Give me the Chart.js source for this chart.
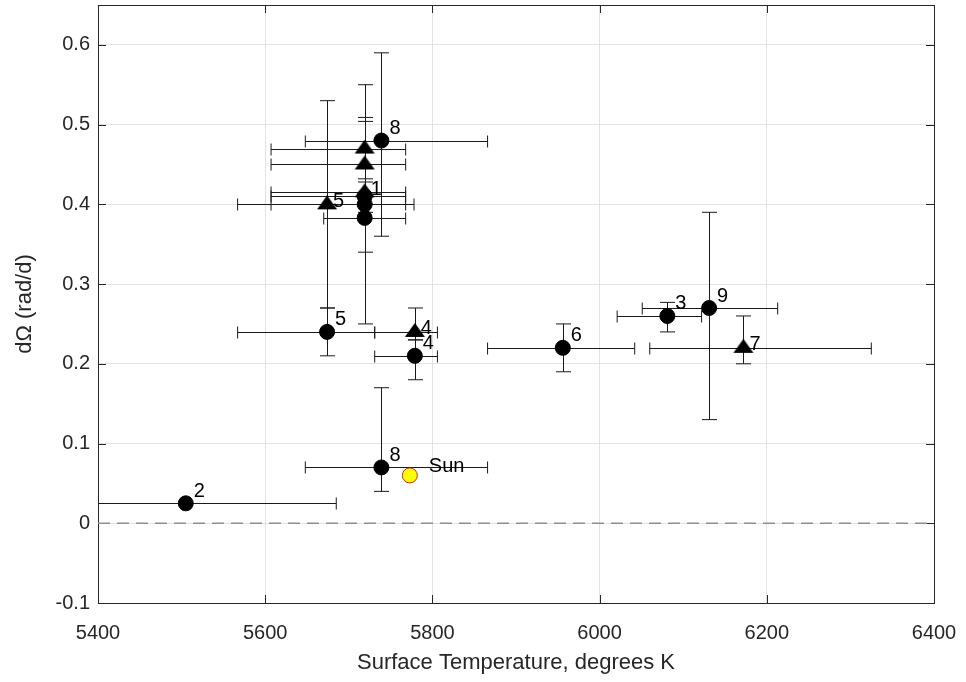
<!DOCTYPE html>
<html>
<head>
<meta charset="utf-8">
<script src="https://cdn.jsdelivr.net/npm/chart.js@4/dist/chart.umd.min.js"></script>
<style>
    html, body { margin: 0; padding: 0; background: #fff; }
    #wrap { width: 966px; height: 682px; }
</style>
</head>
<body>
<div id="wrap"><canvas id="chart" width="966" height="682"></canvas></div>
<script>
// axis ticks
const xTicks = [5400, 5600, 5800, 6000, 6200, 6400];
const yTicks = [-0.1, 0, 0.1, 0.2, 0.3, 0.4, 0.5, 0.6];

// circle markers
const circleTemp = [5505, 5739, 5739, 5674, 5779, 5956, 6081, 6131, 5719, 5719, 5719];
const circleDOmega = [0.025, 0.07, 0.48, 0.24, 0.21, 0.22, 0.26, 0.27, 0.41, 0.40, 0.383];
const circleLabels = ["2", "8", "8", "5", "4", "6", "3", "9", "", "", ""];
const circleTempLow = [5325, 5648, 5648, 5567, 5731, 5866, 6021, 6051, 5607, 5607, 5670];
const circleTempHigh = [5685, 5866, 5866, 5731, 5806, 6042, 6122, 6213, 5768, 5768, 5768];
const circleDOmegaLow = [0.025, 0.04, 0.36, 0.21, 0.18, 0.19, 0.24, 0.13, 0.39, 0.25, 0.34];
const circleDOmegaHigh = [0.025, 0.17, 0.59, 0.27, 0.23, 0.25, 0.277, 0.39, 0.432, 0.504, 0.40];

// triangle markers
const triTemp = [5719, 5719, 5719, 5674, 5779, 6172];
const triDOmega = [0.47, 0.45, 0.415, 0.40, 0.24, 0.22];
const triLabels = ["", "", "1", "5", "4", "7"];
const triTempLow = [5607, 5607, 5607, 5567, 5731, 6060];
const triTempHigh = [5768, 5768, 5768, 5778, 5806, 6325];
const triDOmegaLow = [0.40, 0.40, 0.40, 0.27, 0.23, 0.20];
const triDOmegaHigh = [0.55, 0.509, 0.428, 0.53, 0.27, 0.26];

// the Sun
const sunTemp = [5773];
const sunDOmega = [0.06];
const sunLabels = ["Sun"];

const FONT = "'Liberation Sans', Arial, sans-serif";

function toPoints(xs, ys) {
    return xs.map((x, i) => ({ x: x, y: ys[i] }));
}

function triangleImage() {
    const c = document.createElement("canvas");
    c.width = 22;
    c.height = 18;
    const g = c.getContext("2d");
    g.fillStyle = "#000";
    g.beginPath();
    g.moveTo(11, 0);
    g.lineTo(21, 14);
    g.lineTo(1, 14);
    g.closePath();
    g.fill();
    return c;
}

const errorBars = {
    id: "errorBars",
    beforeDatasetsDraw(chart) {
        const { ctx, chartArea, scales: { x, y } } = chart;
        ctx.save();
        ctx.beginPath();
        ctx.rect(chartArea.left, chartArea.top, chartArea.width, chartArea.height);
        ctx.clip();
        ctx.strokeStyle = "#1a1a1a";
        ctx.lineWidth = 1;
        for (const ds of chart.data.datasets) {
            if (!ds.err) continue;
            ds.data.forEach((p, i) => {
                const px = Math.round(x.getPixelForValue(p.x)) + 0.5;
                const py = Math.round(y.getPixelForValue(p.y)) + 0.5;
                const x0 = x.getPixelForValue(ds.err.xLow[i]);
                const x1 = x.getPixelForValue(ds.err.xHigh[i]);
                const y0 = y.getPixelForValue(ds.err.yLow[i]);
                const y1 = y.getPixelForValue(ds.err.yHigh[i]);
                ctx.beginPath();
                if (ds.err.xLow[i] !== ds.err.xHigh[i]) {
                    ctx.moveTo(x0, py); ctx.lineTo(x1, py);
                    ctx.moveTo(x0, py - 6); ctx.lineTo(x0, py + 6);
                    ctx.moveTo(x1, py - 6); ctx.lineTo(x1, py + 6);
                }
                if (ds.err.yLow[i] !== ds.err.yHigh[i]) {
                    ctx.moveTo(px, y0); ctx.lineTo(px, y1);
                    ctx.moveTo(px - 7.5, y0); ctx.lineTo(px + 7.5, y0);
                    ctx.moveTo(px - 7.5, y1); ctx.lineTo(px + 7.5, y1);
                }
                ctx.stroke();
            });
        }
        ctx.restore();
    }
};

const frame = {
    id: "frame",
    beforeDatasetsDraw(chart) {
        const { ctx, chartArea: a, scales: { x, y } } = chart;
        ctx.save();
        ctx.strokeStyle = "#262626";
        ctx.lineWidth = 1;
        ctx.beginPath();
        for (const t of xTicks) {
            const px = Math.round(x.getPixelForValue(t)) + 0.5;
            ctx.moveTo(px, a.bottom); ctx.lineTo(px, a.bottom - 8);
            ctx.moveTo(px, a.top); ctx.lineTo(px, a.top + 8);
        }
        for (const t of yTicks) {
            const py = Math.round(y.getPixelForValue(t)) + 0.5;
            ctx.moveTo(a.left, py); ctx.lineTo(a.left + 8, py);
            ctx.moveTo(a.right, py); ctx.lineTo(a.right - 8, py);
        }
        ctx.stroke();
        ctx.strokeRect(Math.round(a.left) + 0.5, Math.round(a.top) + 0.5,
            Math.round(a.width), Math.round(a.height));
        ctx.restore();
    }
};

const pointLabels = {
    id: "pointLabels",
    afterDatasetsDraw(chart) {
        const { ctx, scales: { x, y } } = chart;
        ctx.save();
        ctx.fillStyle = "#000";
        ctx.font = "20px " + FONT;
        ctx.textAlign = "left";
        ctx.textBaseline = "middle";
        for (const ds of chart.data.datasets) {
            if (!ds.labels) continue;
            ds.data.forEach((p, i) => {
                const text = ds.labels[i];
                if (!text) return;
                ctx.fillText(text,
                    x.getPixelForValue(p.x) + ds.labelDx,
                    y.getPixelForValue(p.y) + ds.labelDy);
            });
        }
        ctx.restore();
    }
};

function displayChart() {
    const chartElement = document.getElementById("chart");

    const data = {
        datasets: [
            {
                label: "zero",
                type: "line",
                data: [{ x: 5400, y: 0 }, { x: 6400, y: 0 }],
                borderColor: "#8f8f8f",
                borderWidth: 1.5,
                borderDash: [12, 7],
                pointRadius: 0,
                order: 10,
            },
            {
                label: "circles",
                data: toPoints(circleTemp, circleDOmega),
                pointStyle: "circle",
                pointRadius: 7.5,
                pointBackgroundColor: "#000",
                pointBorderColor: "#000",
                pointBorderWidth: 1,
                labels: circleLabels,
                labelDx: 8,
                labelDy: -12,
                err: { xLow: circleTempLow, xHigh: circleTempHigh, yLow: circleDOmegaLow, yHigh: circleDOmegaHigh },
                order: 2,
            },
            {
                label: "triangles",
                data: toPoints(triTemp, triDOmega),
                pointStyle: triangleImage(),
                pointRadius: 10,
                labels: triLabels,
                labelDx: 6,
                labelDy: -3,
                err: { xLow: triTempLow, xHigh: triTempHigh, yLow: triDOmegaLow, yHigh: triDOmegaHigh },
                order: 1,
            },
            {
                label: "Sun",
                data: toPoints(sunTemp, sunDOmega),
                pointStyle: "circle",
                pointRadius: 7.5,
                pointBackgroundColor: "#ffff00",
                pointBorderColor: "#c8281e",
                pointBorderWidth: 1,
                labels: sunLabels,
                labelDx: 19,
                labelDy: -9,
                order: 0,
            },
        ]
    };

    const config = {
        type: "scatter",
        data: data,
        options: {
            responsive: false,
            animation: false,
            layout: { autoPadding: false, padding: { top: 5, right: 32, left: 0, bottom: 0 } },
            plugins: {
                legend: { display: false },
                tooltip: { enabled: false },
            },
            scales: {
                x: {
                    type: "linear",
                    min: 5400,
                    max: 6400,
                    afterBuildTicks: (scale) => { scale.ticks = xTicks.map(v => ({ value: v })); },
                    afterFit: (scale) => {
                        scale.height = 79;
                        scale.paddingLeft = 0;
                        scale.paddingRight = 0;
                    },
                    grid: { color: "#e3e3e3", drawTicks: false },
                    border: { display: false },
                    ticks: {
                        color: "#262626",
                        padding: 18,
                        maxRotation: 0,
                        font: { family: FONT, size: 20 },
                        callback: (v) => String(v),
                    },
                    title: {
                        display: true,
                        text: "Surface Temperature, degrees K",
                        color: "#262626",
                        font: { family: FONT, size: 22 },
                        padding: { top: 4, bottom: 6 },
                    },
                },
                y: {
                    type: "linear",
                    min: -0.1,
                    max: 0.65,
                    afterBuildTicks: (scale) => { scale.ticks = yTicks.map(v => ({ value: v })); },
                    afterFit: (scale) => {
                        scale.width = 98;
                        scale.paddingTop = 0;
                        scale.paddingBottom = 0;
                    },
                    grid: { color: "#e3e3e3", drawTicks: false },
                    border: { display: false },
                    ticks: {
                        color: "#262626",
                        padding: 8,
                        font: { family: FONT, size: 20 },
                        callback: (v) => String(Math.round(v * 10) / 10),
                    },
                    title: {
                        display: true,
                        text: "dΩ (rad/d)",
                        color: "#262626",
                        font: { family: FONT, size: 22 },
                        padding: { top: 12, bottom: 4 },
                    },
                },
            },
        },
        plugins: [frame, errorBars, pointLabels],
    };
    new Chart(chartElement, config);
}
displayChart();
</script>
</body>
</html>
